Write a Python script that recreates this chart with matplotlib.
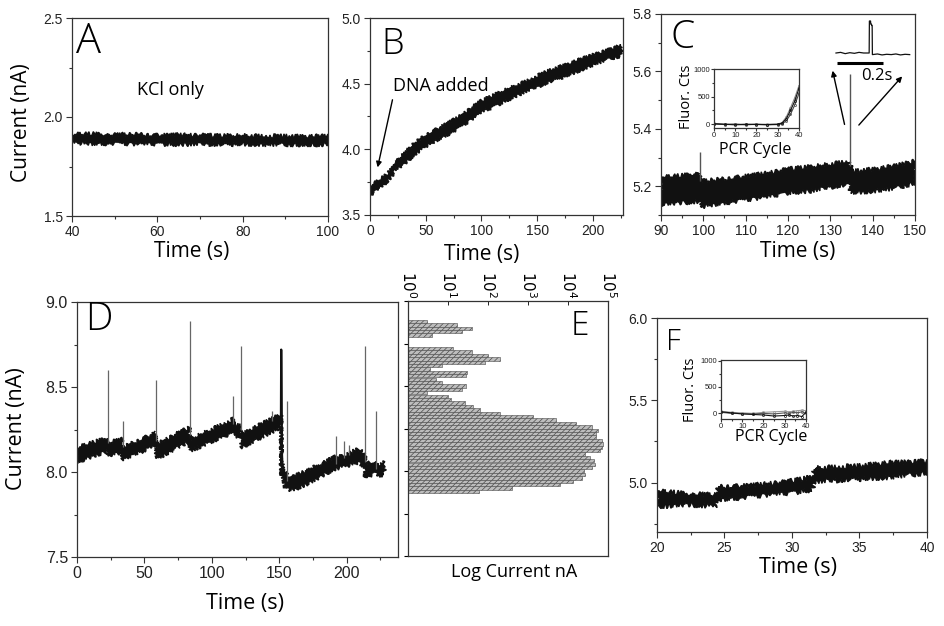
import numpy as np
import matplotlib
matplotlib.use("Agg")
import matplotlib.pyplot as plt
from matplotlib.ticker import MultipleLocator, FixedLocator, NullFormatter, LogLocator, FixedFormatter, FormatStrFormatter

W, H = 945, 626
TICK_FONT = "Liberation Sans"
LABEL_FONT = "Open Sans"
plt.rcParams["hatch.linewidth"] = 0.5

# ---------------- data ----------------
# A: KCl only (noise band envelope)
a_time = [40, 45, 50, 55, 60, 65, 70, 75, 80, 85, 90, 95, 100]
a_upper = [1.914, 1.916, 1.911, 1.913, 1.909, 1.911, 1.908, 1.906, 1.908, 1.904, 1.905, 1.903, 1.904]
a_lower = [1.868, 1.864, 1.866, 1.862, 1.864, 1.860, 1.863, 1.861, 1.862, 1.859, 1.861, 1.860, 1.860]

# B: DNA added
b_time = [0, 5, 10, 15, 20, 22, 30, 40, 50, 65, 80, 100, 120, 140, 160, 180, 200, 215, 225]
b_upper = [3.72, 3.75, 3.78, 3.81, 3.86, 3.91, 3.96, 4.05, 4.11, 4.18, 4.25, 4.37, 4.45, 4.52, 4.60, 4.66, 4.72, 4.76, 4.79]
b_lower = [3.65, 3.68, 3.71, 3.75, 3.80, 3.84, 3.88, 3.96, 4.02, 4.09, 4.16, 4.28, 4.36, 4.44, 4.51, 4.57, 4.64, 4.69, 4.71]

# C: trace with two events
c_time = [90, 95, 99, 99.3, 105, 110, 115, 120, 125, 130, 134.6, 134.9, 140, 145, 150]
c_upper = [5.232, 5.238, 5.248, 5.218, 5.226, 5.236, 5.246, 5.260, 5.268, 5.278, 5.288, 5.253, 5.260, 5.270, 5.288]
c_lower = [5.137, 5.142, 5.147, 5.127, 5.142, 5.152, 5.162, 5.177, 5.182, 5.197, 5.207, 5.177, 5.182, 5.192, 5.212]
c_spike_t = [99.1, 134.7]
c_spike_peak = [5.32, 5.59]

# C inset: PCR curves
pcr_cycle = [0, 5, 10, 15, 20, 25, 30, 32, 34, 36, 38, 40]
c_pcr1 = [10, 0, -10, 0, -5, -5, 0, 20, 100, 250, 420, 650]
c_pcr2 = [5, -5, 0, -10, 0, -10, -5, 10, 60, 180, 350, 560]
c_pcr3 = [15, 5, 5, 0, 5, 0, 5, 30, 130, 300, 480, 700]

# C mini inset: event zoom (relative units)
mini_t = [0.0, 0.02, 0.04, 0.06, 0.08, 0.10, 0.12, 0.144, 0.145, 0.150, 0.151, 0.154, 0.155, 0.157, 0.158,
          0.18, 0.20, 0.22, 0.24, 0.26, 0.28, 0.30, 0.32]
mini_v = [0.0, 0.02, -0.02, 0.01, -0.01, 0.02, 0.0, 0.0, 1.0, 1.0, 0.90, 0.90, 0.86, 0.86, -0.05,
          -0.03, -0.06, -0.04, -0.05, -0.03, -0.06, -0.04, -0.05]

# D: long trace with spikes
d_time = [0, 22.7, 23.1, 33.5, 33.9, 58.3, 58.7, 83.3, 83.7, 115.8, 116.2, 121.3, 121.7, 151.2, 151.6,
          154, 158, 175, 190, 200, 205, 209, 213.4, 213.8, 221.8, 222.2, 228]
d_upper = [8.145, 8.203, 8.175, 8.193, 8.145, 8.232, 8.163, 8.262, 8.193, 8.311, 8.281, 8.272, 8.222, 8.340, 8.065,
           8.005, 7.965, 8.025, 8.085, 8.105, 8.125, 8.135, 8.105, 8.045, 8.065, 8.035, 8.065]
d_lower = [8.059, 8.124, 8.095, 8.115, 8.075, 8.154, 8.075, 8.183, 8.124, 8.232, 8.213, 8.203, 8.144, 8.262, 7.995,
           7.915, 7.885, 7.945, 8.015, 8.035, 8.045, 8.055, 8.025, 7.965, 7.995, 7.975, 7.985]
d_spike_t = [23, 33.8, 58.5, 83.5, 116, 121.5, 144.4, 155.6, 192, 198, 201.7, 213.6, 222]
d_spike_peak = [8.60, 8.30, 8.54, 8.89, 8.45, 8.74, 8.36, 8.42, 8.21, 8.18, 8.16, 8.74, 8.36]
d_spike_base = [8.17, 8.15, 8.18, 8.22, 8.28, 8.25, 8.30, 7.95, 8.05, 8.08, 8.10, 8.06, 8.02]
d_big_event_t = [151.2, 151.4, 152.0, 152.6]
d_big_event_v = [8.30, 8.72, 8.10, 7.98]

# E: current histogram (log counts)
e_bin_centers = np.round(np.arange(8.88, 7.87, -0.02), 2)
e_counts = [2, 16, 39, 22, 3, 0, 0, 0, 12, 39, 100, 200, 85, 6, 2.5, 29, 27, 4, 6, 27, 22, 2,
            9, 11, 25, 40, 63, 200, 1300, 5000, 16000, 40000, 56000, 50000, 50000, 70000, 75000,
            72000, 63000, 26000, 35000, 45000, 47000, 40000, 25000, 27000, 22000, 13500, 6300, 400, 58]
e_ticks = [1, 10, 100, 1000, 10000, 100000]
e_ticklabels = [r"$10^0$", r"$10^1$", r"$10^2$", r"$10^3$", r"$10^4$", r"$10^5$"]

# F: control trace
f_time = [20, 22.2, 24.3, 24.6, 27.1, 29.6, 31.5, 31.7, 34.5, 37, 40]
f_upper = [4.950, 4.935, 4.925, 4.975, 4.985, 5.005, 5.035, 5.090, 5.100, 5.120, 5.130]
f_lower = [4.853, 4.865, 4.855, 4.895, 4.915, 4.935, 4.955, 5.005, 5.019, 5.029, 5.060]
f_pcr1 = [30, 10, -10, -20, -30, -50, -40, -30, -50, -40, -60, 20]
f_pcr2 = [40, 20, 10, 0, 20, 30, 40, 30, 40, 50, 60, 50]
f_pcr3 = [20, 0, -5, -10, 0, -10, 10, 0, 20, 10, 30, 0]

# ---------------- helpers ----------------
fig = plt.figure(figsize=(W / 100, H / 100), dpi=100)


def box(l, t, r, b):
    return [l / W, 1 - b / H, (r - l) / W, (b - t) / H]


def ftext(x, y, s, size, **kw):
    kw.setdefault("ha", "center")
    kw.setdefault("va", "center")
    fig.text(x / W, 1 - y / H, s, fontsize=size, family=LABEL_FONT, **kw)


def letter(x, y, s, size):
    ftext(x, y, s, size, ha="left", fontweight="light")


def style(ax, size=10, major=4, minor=2.5, pad=2.5):
    for sp in ax.spines.values():
        sp.set_linewidth(0.9)
        sp.set_color("#333333")
    ax.tick_params(which="both", direction="out", top=False, right=False, width=0.8, color="#333333",
                   labelsize=size, pad=pad, labelcolor="#222222")
    ax.tick_params(which="major", length=major)
    ax.tick_params(which="minor", length=minor)
    for lab in ax.get_xticklabels() + ax.get_yticklabels():
        lab.set_family(TICK_FONT)


def band(ax, t, up, lo, amp=1.6):
    xs = list(t) + list(t)[::-1]
    ys = list(up) + list(lo)[::-1]
    for p in ax.fill(xs, ys, color="#111111", lw=1.0, edgecolor="#111111"):
        p.set_sketch_params(scale=amp, length=1.2, randomness=6)


# ---------------- A ----------------
axA = fig.add_axes(box(72, 18, 328, 216))
band(axA, a_time, a_upper, a_lower, amp=2.0)
axA.set_xlim(40, 100)
axA.set_ylim(1.5, 2.5)
axA.xaxis.set_major_locator(MultipleLocator(20))
axA.xaxis.set_minor_locator(MultipleLocator(10))
axA.yaxis.set_major_locator(MultipleLocator(0.5))
axA.yaxis.set_minor_locator(MultipleLocator(0.25))
axA.yaxis.set_major_formatter(FormatStrFormatter("%.1f"))
style(axA)
ftext(170, 90, "KCl only", 13)
letter(76, 42, "A", 30)
ftext(22, 123, "Current (nA)", 15, rotation=90)
ftext(192, 252, "Time (s)", 15)

# ---------------- B ----------------
axB = fig.add_axes(box(370, 18, 623, 215))
band(axB, b_time, b_upper, b_lower, amp=1.6)
axB.set_xlim(0, 227)
axB.set_ylim(3.5, 5.0)
axB.xaxis.set_major_locator(MultipleLocator(50))
axB.xaxis.set_minor_locator(MultipleLocator(25))
axB.yaxis.set_major_locator(MultipleLocator(0.5))
axB.yaxis.set_minor_locator(MultipleLocator(0.25))
axB.yaxis.set_major_formatter(FormatStrFormatter("%.1f"))
style(axB)
axB.annotate("", xy=(6.3, 3.842), xytext=(20.7, 4.398),
             arrowprops=dict(arrowstyle="-|>", color="black", lw=1.0, mutation_scale=8))
ftext(393, 86, "DNA added", 13, ha="left")
letter(381, 45, "B", 26)
ftext(482, 254, "Time (s)", 15)

# ---------------- C ----------------
axC = fig.add_axes(box(661, 14, 915, 215))
band(axC, c_time, c_upper, c_lower, amp=2.2)
axC.vlines(c_spike_t, [5.22, 5.27], c_spike_peak, color="#555555", lw=1.0)
axC.set_xlim(90, 150)
axC.set_ylim(5.1, 5.8)
axC.xaxis.set_major_locator(MultipleLocator(10))
axC.xaxis.set_minor_locator(MultipleLocator(5))
axC.yaxis.set_major_locator(FixedLocator([5.2, 5.4, 5.6, 5.8]))
axC.yaxis.set_minor_locator(FixedLocator([5.1, 5.3, 5.5, 5.7]))
axC.yaxis.set_major_formatter(FormatStrFormatter("%.1f"))
style(axC)
axC.annotate("", xy=(130.4, 5.612), xytext=(133.5, 5.406),
             arrowprops=dict(arrowstyle="-|>", color="black", lw=1.0, mutation_scale=8))
axC.annotate("", xy=(147.4, 5.59), xytext=(136.3, 5.406),
             arrowprops=dict(arrowstyle="-|>", color="black", lw=1.0, mutation_scale=8))
letter(671, 38, "C", 28)
ftext(798, 252, "Time (s)", 15)

# C inset
axCi = fig.add_axes(box(714, 69, 799, 128))
for vals, col in [(c_pcr3, "#888888"), (c_pcr2, "#444444"), (c_pcr1, "#111111")]:
    axCi.plot(pcr_cycle, vals, color=col, lw=0.8, marker="o", ms=1.5, mfc="none", mew=0.5)
axCi.set_xlim(0, 40)
axCi.set_ylim(-67, 1000)
axCi.xaxis.set_major_locator(MultipleLocator(10))
axCi.yaxis.set_major_locator(FixedLocator([0, 500, 1000]))
axCi.yaxis.set_minor_locator(FixedLocator([250, 750]))
axCi.xaxis.set_minor_locator(MultipleLocator(5))
style(axCi, size=5.5, major=2, minor=1.2, pad=1)
ftext(686, 97, "Fluor. Cts", 10.5, rotation=90)
ftext(755, 150, "PCR Cycle", 11.5)

# C mini inset (zoomed event)
axM = fig.add_axes(box(833, 15, 915, 82))
axM.plot(mini_t, mini_v, color="#111111", lw=0.9)
axM.set_xlim(-0.013, 0.343)
axM.set_ylim(-0.906, 1.1875)
axM.axis("off")
axM.plot([0.004, 0.204], [-0.3125, -0.3125], color="black", lw=2.2, solid_capstyle="butt")
ftext(877, 76, "0.2s", 12)

# ---------------- D ----------------
axD = fig.add_axes(box(77, 302, 398, 557))
band(axD, d_time, d_upper, d_lower, amp=2.0)
axD.vlines(d_spike_t, d_spike_base, d_spike_peak, color="#666666", lw=0.9)
axD.plot(d_big_event_t, d_big_event_v, color="#111111", lw=1.6)
axD.set_xlim(0, 238)
axD.set_ylim(7.5, 9.0)
axD.xaxis.set_major_locator(MultipleLocator(50))
axD.xaxis.set_minor_locator(MultipleLocator(25))
axD.yaxis.set_major_locator(MultipleLocator(0.5))
axD.yaxis.set_minor_locator(MultipleLocator(0.25))
axD.yaxis.set_major_formatter(FormatStrFormatter("%.1f"))
style(axD, size=11.5)
letter(85, 320, "D", 28)
ftext(17, 429, "Current (nA)", 15.5, rotation=90)
ftext(245, 604, "Time (s)", 15.5)

# ---------------- E ----------------
axE = fig.add_axes(box(408, 301, 608, 556))
axE.barh(e_bin_centers, e_counts, height=0.02, left=1, color="#bdbdbd", edgecolor="#4a4a4a",
         hatch="//////", lw=0.4)
axE.set_xscale("log")
axE.set_xlim(1, 1e5)
axE.set_ylim(7.5, 9.0)
axE.xaxis.tick_top()
axE.xaxis.set_major_locator(FixedLocator(e_ticks))
axE.xaxis.set_major_formatter(FixedFormatter(e_ticklabels))
axE.xaxis.set_minor_locator(LogLocator(base=10, subs=np.arange(2, 10)))
axE.xaxis.set_minor_formatter(NullFormatter())
axE.yaxis.set_major_locator(MultipleLocator(0.25))
axE.yaxis.set_major_formatter(NullFormatter())
for sp in axE.spines.values():
    sp.set_linewidth(0.9)
    sp.set_color("#333333")
axE.tick_params(axis="x", which="both", direction="in", top=True, bottom=False, labeltop=True,
                labelbottom=False, width=0.6, labelsize=11, pad=2)
axE.tick_params(axis="x", which="major", length=3)
axE.tick_params(axis="x", which="minor", length=1.5)
axE.tick_params(axis="y", which="both", direction="out", length=3, width=0.8, left=True, right=False)
for lab in axE.get_xticklabels():
    lab.set_rotation(-90)
    lab.set_family(TICK_FONT)
letter(571, 326, "E", 24)
ftext(514, 572, "Log Current nA", 13)

# ---------------- F ----------------
axF = fig.add_axes(box(657, 318, 927, 532))
band(axF, f_time, f_upper, f_lower, amp=2.4)
axF.set_xlim(20, 40)
axF.set_ylim(4.7, 6.0)
axF.xaxis.set_major_locator(MultipleLocator(5))
axF.xaxis.set_minor_locator(MultipleLocator(2.5))
axF.yaxis.set_major_locator(FixedLocator([5.0, 5.5, 6.0]))
axF.yaxis.set_minor_locator(FixedLocator([4.75, 5.25, 5.75]))
axF.yaxis.set_major_formatter(FormatStrFormatter("%.1f"))
style(axF)
letter(666, 342, "F", 21)
ftext(798, 567, "Time (s)", 15.5)

axFi = fig.add_axes(box(721, 360, 806, 419))
for vals, col in [(f_pcr2, "#999999"), (f_pcr3, "#555555"), (f_pcr1, "#111111")]:
    axFi.plot(pcr_cycle, vals, color=col, lw=0.8, marker="o", ms=1.5, mfc="none", mew=0.5)
axFi.set_xlim(0, 40)
axFi.set_ylim(-106, 1010)
axFi.xaxis.set_major_locator(MultipleLocator(10))
axFi.xaxis.set_minor_locator(MultipleLocator(5))
axFi.yaxis.set_major_locator(FixedLocator([0, 500, 1000]))
axFi.yaxis.set_minor_locator(FixedLocator([250, 750]))
style(axFi, size=5.5, major=2, minor=1.2, pad=1)
ftext(691, 390, "Fluor. Cts", 10.5, rotation=90)
ftext(771, 437, "PCR Cycle", 11.5)

fig.savefig("out.png", dpi=100)
